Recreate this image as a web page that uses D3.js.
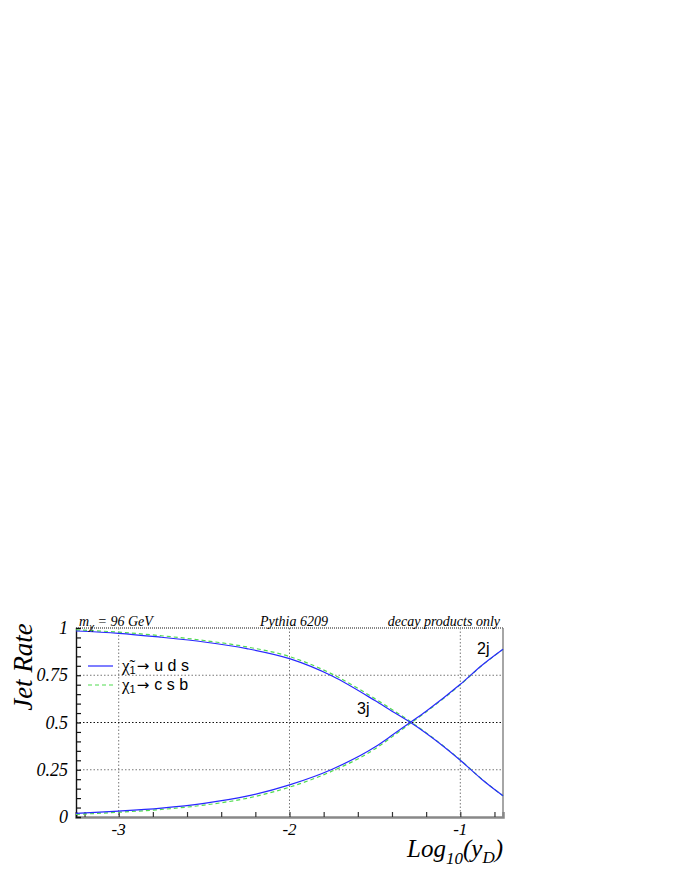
<!DOCTYPE html>
<html>
    <head>
        <meta charset="utf-8">
        <style>
            body { margin: 0; background: white; }
            text { font-family: "Liberation Serif", "DejaVu Serif", serif; }
            .sans { font-family: "Liberation Sans", Arial, sans-serif; }
            .arrow { font-family: "DejaVu Sans", sans-serif; }
        </style>
    </head>
    <body>
        <div id="chart"></div>
    </body>
    <script src="https://cdn.jsdelivr.net/npm/d3@7"></script>
    <script>
        // log10(yD) sample positions
        const logY = [-3.25, -3.0, -2.75, -2.5, -2.25, -2.0, -1.75, -1.5, -1.4, -1.3, -1.2, -1.0, -0.875, -0.75];

        // chi -> u d s (blue solid)
        const rate3jUds = [0.984, 0.972, 0.951, 0.926, 0.891, 0.838, 0.746, 0.616, 0.560, 0.505, 0.443, 0.300, 0.200, 0.112];
        const rate2jUds = [0.019, 0.031, 0.047, 0.072, 0.110, 0.170, 0.253, 0.370, 0.432, 0.496, 0.560, 0.702, 0.802, 0.888];

        // chi -> c s b (green dashed)
        const rate3jCsb = [0.990, 0.978, 0.959, 0.934, 0.900, 0.849, 0.756, 0.626, 0.569, 0.510, 0.446, 0.302, 0.201, 0.112];
        const rate2jCsb = [0.014, 0.025, 0.040, 0.063, 0.099, 0.158, 0.243, 0.360, 0.424, 0.490, 0.556, 0.700, 0.800, 0.887];

        const xTickValues = [-3, -2, -1];
        const xTickLabels = ['-3', '-2', '-1'];
        const yTickValues = [0, 0.25, 0.5, 0.75, 1];
        const yTickLabels = ['0', '0.25', '0.5', '0.75', '1'];

        const svgWidth = 680;
        const svgHeight = 880;
        const plotLeft = 76, plotRight = 503, plotTop = 628, plotBottom = 817;

        const blue = 'rgb(40, 40, 255)';
        const green = 'rgb(80, 220, 80)';

        const svg = d3.select('#chart')
        .append('svg')
        .attr('width', svgWidth)
        .attr('height', svgHeight)
        .style('background-color', 'white')

        const xScale = d3.scaleLinear()
        .domain([-3.25, -0.75])
        .range([plotLeft, plotRight])

        const yScale = d3.scaleLinear()
        .domain([0, 1])
        .range([plotBottom, plotTop])

        // grid
        svg.append('g')
        .selectAll('line')
        .data(xTickValues)
        .enter()
        .append('line')
        .attr('x1', d => xScale(d))
        .attr('x2', d => xScale(d))
        .attr('y1', plotTop)
        .attr('y2', plotBottom)
        .attr('stroke', '#777')
        .attr('stroke-width', 1)
        .attr('stroke-dasharray', '1.5,2')

        svg.append('g')
        .selectAll('line')
        .data(yTickValues.filter(d => d > 0))
        .enter()
        .append('line')
        .attr('x1', plotLeft)
        .attr('x2', plotRight)
        .attr('y1', d => yScale(d))
        .attr('y2', d => yScale(d))
        .attr('stroke', d => d === 0.5 ? '#111' : (d === 1 ? '#888' : '#777'))
        .attr('stroke-width', d => d === 1 ? 2 : 1)
        .attr('stroke-dasharray', d => d === 1 ? '1,1' : '1.5,2')

        // frame: right side
        svg.append('line')
        .attr('x1', plotRight).attr('x2', plotRight)
        .attr('y1', plotTop).attr('y2', plotBottom)
        .attr('stroke', '#888')
        .attr('stroke-width', 1.5)

        // x axis
        const xAxis = d3.axisTop(xScale)
        .tickValues(d3.range(-3.2, -0.75, 0.2).map(d => +d.toFixed(1)))
        .tickSize(5)
        .tickFormat('')

        const gx = svg.append('g')
        .attr('transform', `translate(0, ${plotBottom})`)
        .call(xAxis)
        gx.select('.domain').attr('stroke', '#888').attr('stroke-width', 2.5)
        gx.selectAll('.tick line').attr('stroke', '#333').attr('stroke-width', 1.2)

        svg.append('g')
        .selectAll('text')
        .data(xTickValues)
        .enter()
        .append('text')
        .attr('x', d => xScale(d))
        .attr('y', 835)
        .attr('text-anchor', 'middle')
        .style('font-style', 'italic')
        .style('font-size', '17px')
        .text((d, i) => xTickLabels[i])

        // y axis
        const yAxis = d3.axisRight(yScale)
        .tickValues(d3.range(0.05, 1, 0.05).map(d => +d.toFixed(2)))
        .tickSize(5)
        .tickFormat('')

        const gy = svg.append('g')
        .attr('transform', `translate(${plotLeft}, 0)`)
        .call(yAxis)
        gy.select('.domain').attr('stroke', '#111').attr('stroke-width', 1.4)
        gy.selectAll('.tick line').attr('stroke', '#111').attr('stroke-width', 1.2)

        svg.append('g')
        .selectAll('text')
        .data(yTickValues)
        .enter()
        .append('text')
        .attr('x', 68)
        .attr('y', d => yScale(d) + 6)
        .attr('text-anchor', 'end')
        .style('font-style', 'italic')
        .style('font-size', '18px')
        .text((d, i) => yTickLabels[i])

        // curves
        const line = d3.line()
        .x(d => xScale(d[0]))
        .y(d => yScale(d[1]))
        .curve(d3.curveMonotoneX)

        const series = [
            { values: rate3jCsb, color: green, dash: '4,3' },
            { values: rate2jCsb, color: green, dash: '4,3' },
            { values: rate3jUds, color: blue, dash: null },
            { values: rate2jUds, color: blue, dash: null }
        ];

        svg.append('g')
        .selectAll('path')
        .data(series)
        .enter()
        .append('path')
        .attr('d', s => line(logY.map((x, i) => [x, s.values[i]])))
        .attr('fill', 'none')
        .attr('stroke', s => s.color)
        .attr('stroke-width', 1.2)
        .attr('stroke-dasharray', s => s.dash)

        // header texts
        const mText = svg.append('text')
        .attr('x', 79)
        .attr('y', 626)
        .style('font-style', 'italic')
        .style('font-size', '14px')
        mText.append('tspan').text('m')
        mText.append('tspan').attr('dy', 4).style('font-size', '11px').text('χ')
        mText.append('tspan').attr('dy', -4).text(' = 96 GeV')

        svg.append('text')
        .attr('x', 294)
        .attr('y', 626)
        .attr('text-anchor', 'middle')
        .style('font-style', 'italic')
        .style('font-size', '14px')
        .text('Pythia 6209')

        svg.append('text')
        .attr('x', 500)
        .attr('y', 626)
        .attr('text-anchor', 'end')
        .style('font-style', 'italic')
        .style('font-size', '14px')
        .text('decay products only')

        // axis titles
        svg.append('text')
        .attr('transform', 'translate(32, 667) rotate(-90)')
        .attr('text-anchor', 'middle')
        .style('font-style', 'italic')
        .style('font-size', '27px')
        .text('Jet Rate')

        const xt = svg.append('text')
        .attr('x', 503)
        .attr('y', 857)
        .attr('text-anchor', 'end')
        .style('font-style', 'italic')
        .style('font-size', '25px')
        xt.append('tspan').text('Log')
        xt.append('tspan').attr('dy', 7).style('font-size', '17px').text('10')
        xt.append('tspan').attr('dy', -7).text('(y')
        xt.append('tspan').attr('dy', 6).style('font-size', '17px').text('D')
        xt.append('tspan').attr('dy', -6).text(')')

        // legend
        const legendItems = [
            { chi: 'χ\u0303', label: 'u d s', color: blue, dash: null, y: 666 },
            { chi: 'χ', label: 'c s b', color: green, dash: '4,3', y: 685 }
        ];

        const legend = svg.append('g')

        legend.selectAll('line')
        .data(legendItems)
        .enter()
        .append('line')
        .attr('x1', 88)
        .attr('x2', 113)
        .attr('y1', d => d.y)
        .attr('y2', d => d.y)
        .attr('stroke', d => d.color)
        .attr('stroke-width', 1.2)
        .attr('stroke-dasharray', d => d.dash)

        legendItems.forEach(d => {
            const t = legend.append('text')
            .attr('x', 122)
            .attr('y', d.y + 5)
            .style('font-size', '15px')
            t.append('tspan').style('font-size', '17px').text(d.chi)
            t.append('tspan').attr('dy', 3).attr('class', 'sans').style('font-size', '11px').text('1')
            t.append('tspan').attr('dy', -3).attr('dx', 1).attr('class', 'arrow').style('font-size', '15px').text('\u2192')
            t.append('tspan').attr('class', 'sans').attr('dx', 5).style('font-size', '16px').text(d.label)
        })

        // curve labels
        svg.append('text')
        .attr('class', 'sans')
        .attr('x', 477)
        .attr('y', 654)
        .style('font-size', '16px')
        .text('2j')

        svg.append('text')
        .attr('class', 'sans')
        .attr('x', 357)
        .attr('y', 714)
        .style('font-size', '16px')
        .text('3j')
    </script>
</html>
